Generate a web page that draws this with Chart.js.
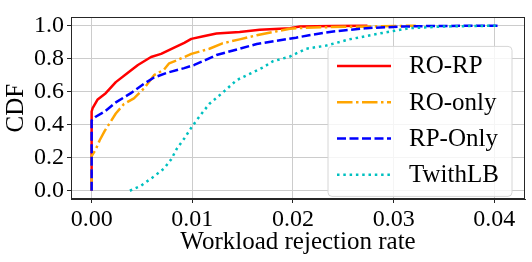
<!DOCTYPE html>
<html>
<head>
<meta charset="utf-8">
<script src="https://cdn.jsdelivr.net/npm/chart.js@4/dist/chart.umd.min.js"></script>
<style>
  html, body { margin: 0; padding: 0; background: #ffffff; }
  #wrap { width: 532px; height: 262px; }
</style>
</head>
<body>
<div id="wrap"><canvas id="c" width="532" height="262"></canvas></div>
<script>
// ---- data ----
const seriesLabels = ['RO-RP', 'RO-only', 'RP-Only', 'TwithLB'];

const roRpX = [0, 0, 0.0001, 0.0006, 0.0014, 0.0024, 0.0036, 0.0046, 0.0059, 0.0069, 0.0082, 0.0092, 0.0099, 0.0111, 0.0124, 0.0147, 0.0167, 0.0197, 0.0207, 0.0240, 0.0274];
const roRpY = [0, 0.48, 0.50, 0.553, 0.591, 0.658, 0.715, 0.762, 0.810, 0.829, 0.867, 0.896, 0.920, 0.936, 0.952, 0.962, 0.975, 0.985, 0.995, 0.998, 1.0];

const roOnlyX = [0, 0, 0.0004, 0.0008, 0.0013, 0.0018, 0.0024, 0.0032, 0.0042, 0.0052, 0.0062, 0.0072, 0.0077, 0.0085, 0.0099, 0.0117, 0.0130, 0.0147, 0.0164, 0.0183, 0.0197, 0.0213, 0.0250, 0.0276, 0.0322];
const roOnlyY = [0, 0.21, 0.249, 0.306, 0.363, 0.41, 0.468, 0.525, 0.56, 0.62, 0.70, 0.734, 0.772, 0.791, 0.829, 0.860, 0.893, 0.917, 0.942, 0.965, 0.981, 0.988, 0.993, 0.995, 1.0];

const rpOnlyX = [0, 0, 0.0004, 0.0013, 0.0024, 0.0039, 0.0052, 0.0062, 0.0075, 0.0092, 0.0102, 0.0114, 0.0124, 0.0147, 0.0164, 0.0187, 0.0203, 0.0216, 0.0240, 0.0273, 0.0306, 0.0339, 0.0405];
const rpOnlyY = [0, 0.426, 0.448, 0.48, 0.535, 0.591, 0.648, 0.686, 0.715, 0.743, 0.762, 0.794, 0.822, 0.860, 0.889, 0.912, 0.927, 0.942, 0.965, 0.985, 0.994, 0.998, 1.0];

const twithX = [0.0038, 0.0049, 0.0062, 0.0072, 0.0079, 0.0085, 0.0092, 0.0099, 0.0106, 0.0117, 0.0130, 0.0144, 0.0157, 0.0170, 0.0180, 0.0197, 0.0213, 0.0233, 0.0256, 0.0289, 0.0316, 0.0350, 0.0405];
const twithY = [0, 0.03, 0.087, 0.135, 0.19, 0.259, 0.316, 0.382, 0.441, 0.527, 0.593, 0.670, 0.708, 0.746, 0.784, 0.813, 0.860, 0.879, 0.917, 0.956, 0.985, 0.995, 1.0];

const xTickValues = [0, 0.01, 0.02, 0.03, 0.04];
const xTickLabels = ['0.00', '0.01', '0.02', '0.03', '0.04'];
const yTickValues = [0, 0.2, 0.4, 0.6, 0.8, 1.0];
const yTickLabels = ['0.0', '0.2', '0.4', '0.6', '0.8', '1.0'];

const xTitle = 'Workload rejection rate';
const yTitle = 'CDF';

// ---- build ----
function pts(xs, ys) { return xs.map((x, i) => ({ x: x, y: ys[i] })); }

const FONT = "'Liberation Serif', 'Times New Roman', serif";
const datasets = [
  { label: seriesLabels[0], data: pts(roRpX, roRpY), borderColor: '#ff0000', borderWidth: 2.5, borderDash: [], order: 4 },
  { label: seriesLabels[1], data: pts(roOnlyX, roOnlyY), borderColor: '#ffa500', borderWidth: 2.5, borderDash: [15.5, 3.5, 2.5, 3.5], order: 3 },
  { label: seriesLabels[2], data: pts(rpOnlyX, rpOnlyY), borderColor: '#0000ff', borderWidth: 2.5, borderDash: [9, 3.5], order: 2 },
  { label: seriesLabels[3], data: pts(twithX, twithY), borderColor: '#00c0c0', borderWidth: 2.5, borderDash: [2.5, 3.8], order: 1 }
].map(d => Object.assign(d, { pointRadius: 0, tension: 0, fill: false, borderCapStyle: 'butt', borderJoinStyle: 'round' }));

const framePlugin = {
  id: 'frameAndLegend',
  afterDatasetsDraw(chart) {
    const ctx = chart.ctx, a = chart.chartArea;
    ctx.save();
    ctx.strokeStyle = '#262626';
    ctx.lineWidth = 1;
    ctx.strokeRect(Math.round(a.left) + 0.5, Math.round(a.top) + 0.5, Math.round(a.right - a.left) - 1, Math.round(a.bottom - a.top) - 1);
    // legend
    const bx = a.right - 197, by = a.top + 29, bw = 184, bh = 150, r = 4;
    ctx.beginPath();
    ctx.moveTo(bx + r, by);
    ctx.arcTo(bx + bw, by, bx + bw, by + bh, r);
    ctx.arcTo(bx + bw, by + bh, bx, by + bh, r);
    ctx.arcTo(bx, by + bh, bx, by, r);
    ctx.arcTo(bx, by, bx + bw, by, r);
    ctx.closePath();
    ctx.fillStyle = 'rgba(255,255,255,0.8)';
    ctx.fill();
    ctx.strokeStyle = '#d6d6d6';
    ctx.stroke();
    ctx.font = '25px ' + FONT;
    ctx.textBaseline = 'middle';
    ctx.textAlign = 'left';
    chart.data.datasets.forEach((ds, i) => {
      const y = by + 19.5 + i * 36.3;
      ctx.beginPath();
      ctx.setLineDash(ds.borderDash);
      ctx.lineDashOffset = 0;
      ctx.strokeStyle = ds.borderColor;
      ctx.lineWidth = ds.borderWidth;
      ctx.lineCap = 'butt';
      ctx.moveTo(bx + 9, y);
      ctx.lineTo(bx + 63, y);
      ctx.stroke();
      ctx.setLineDash([]);
      ctx.fillStyle = '#000000';
      ctx.fillText(ds.label, bx + 81, y + 1);
    });
    ctx.restore();
  }
};

new Chart(document.getElementById('c'), {
  type: 'line',
  data: { datasets: datasets },
  plugins: [framePlugin],
  options: {
    responsive: false,
    animation: false,
    events: [],
    layout: { padding: { top: 6, right: 7, left: 0, bottom: 0 } },
    plugins: { legend: { display: false }, tooltip: { enabled: false } },
    scales: {
      x: {
        type: 'linear',
        min: -0.00205,
        max: 0.04305,
        afterBuildTicks(s) { s.ticks = xTickValues.map(v => ({ value: v })); },
        afterFit(s) { s.height = 63; },
        ticks: {
          color: '#000000',
          font: { family: FONT, size: 24 },
          padding: 2,
          maxRotation: 0,
          autoSkip: false,
          callback(v) { const i = xTickValues.findIndex(t => Math.abs(t - v) < 1e-9); return i >= 0 ? xTickLabels[i] : ''; }
        },
        grid: { color: '#cccccc', lineWidth: 1, tickLength: 4, tickColor: '#262626', drawTicks: true },
        border: { display: true, color: '#262626', width: 1 },
        title: { display: true, text: xTitle, color: '#000000', font: { family: FONT, size: 25 }, padding: { top: 0, bottom: 5 } }
      },
      y: {
        type: 'linear',
        min: -0.05,
        max: 1.05,
        afterBuildTicks(s) { s.ticks = yTickValues.map(v => ({ value: v })); },
        afterFit(s) { s.width = 71; },
        ticks: {
          color: '#000000',
          font: { family: FONT, size: 24 },
          padding: 3,
          autoSkip: false,
          callback(v) { const i = yTickValues.findIndex(t => Math.abs(t - v) < 1e-9); return i >= 0 ? yTickLabels[i] : ''; }
        },
        grid: { color: '#cccccc', lineWidth: 1, tickLength: 4, tickColor: '#262626', drawTicks: true },
        border: { display: true, color: '#262626', width: 1 },
        title: { display: true, text: yTitle, color: '#000000', font: { family: FONT, size: 25 }, padding: { top: 1, bottom: 0 } }
      }
    }
  }
});
</script>
</body>
</html>
